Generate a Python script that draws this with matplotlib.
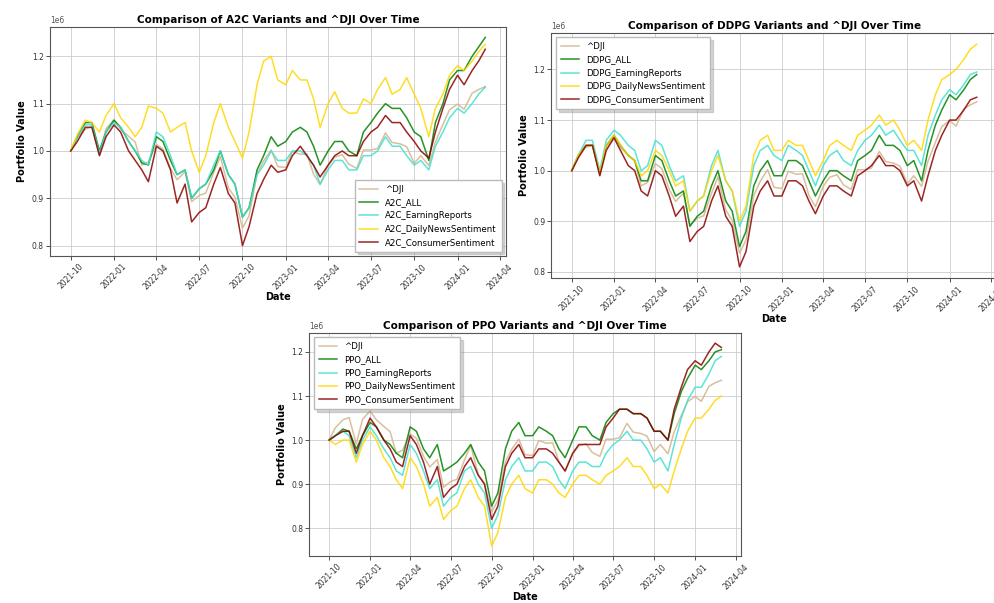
import numpy as np
import pandas as pd
import matplotlib
matplotlib.use("Agg")
import matplotlib.pyplot as plt
import matplotlib.dates as mdates

# Semi-monthly sample dates
dates = pd.to_datetime(
    [f"{y}-{m:02d}-{d:02d}" for y, m in
     [(2021, 10), (2021, 11), (2021, 12)] + [(2022, k) for k in range(1, 13)] +
     [(2023, k) for k in range(1, 13)] + [(2024, 1), (2024, 2)]
     for d in (1, 15)] + ["2024-02-29"])

dji = [1.000, 1.028, 1.046, 1.051, 0.991, 1.047, 1.066, 1.046, 1.031, 1.019, 0.970, 0.977,
       1.014, 1.004, 0.963, 0.939, 0.956, 0.893, 0.906, 0.911, 0.955, 0.988, 0.922, 0.902,
       0.837, 0.863, 0.951, 0.979, 1.002, 0.967, 0.965, 0.999, 0.993, 0.994, 0.951, 0.929,
       0.969, 0.987, 0.992, 0.972, 0.963, 1.002, 1.002, 1.005, 1.038, 1.018, 1.015, 1.009,
       0.974, 0.990, 0.969, 1.019, 1.056, 1.087, 1.099, 1.088, 1.122, 1.130, 1.136]

a2c_all = [1.00, 1.03, 1.06, 1.06, 1.00, 1.04, 1.065, 1.05, 1.02, 1.00, 0.975, 0.97,
           1.03, 1.02, 0.98, 0.95, 0.96, 0.90, 0.92, 0.93, 0.96, 1.00, 0.95, 0.93,
           0.86, 0.88, 0.96, 0.99, 1.03, 1.01, 1.02, 1.04, 1.05, 1.04, 1.01, 0.97,
           1.00, 1.02, 1.02, 1.00, 0.99, 1.04, 1.06, 1.08, 1.10, 1.09, 1.09, 1.07,
           1.04, 1.03, 0.98, 1.06, 1.10, 1.15, 1.17, 1.17, 1.20, 1.22, 1.24]
a2c_earn = [1.00, 1.03, 1.055, 1.055, 0.995, 1.04, 1.06, 1.05, 1.02, 1.00, 0.98, 0.97,
            1.04, 1.03, 0.99, 0.95, 0.96, 0.90, 0.92, 0.93, 0.97, 1.00, 0.95, 0.93,
            0.86, 0.88, 0.95, 0.97, 1.00, 0.98, 0.98, 1.00, 1.00, 0.99, 0.97, 0.93,
            0.96, 0.98, 0.98, 0.96, 0.96, 0.99, 0.99, 1.00, 1.03, 1.01, 1.01, 0.99,
            0.97, 0.98, 0.96, 1.01, 1.04, 1.07, 1.09, 1.08, 1.10, 1.12, 1.135]
a2c_news = [1.00, 1.035, 1.065, 1.06, 1.04, 1.075, 1.10, 1.07, 1.05, 1.03, 1.05, 1.095,
            1.09, 1.08, 1.04, 1.05, 1.06, 1.00, 0.955, 0.99, 1.06, 1.10, 1.05, 1.02,
            0.985, 1.04, 1.14, 1.19, 1.20, 1.15, 1.14, 1.17, 1.15, 1.15, 1.11, 1.05,
            1.10, 1.125, 1.09, 1.08, 1.08, 1.11, 1.10, 1.13, 1.155, 1.12, 1.13, 1.155,
            1.12, 1.09, 1.03, 1.09, 1.12, 1.16, 1.18, 1.17, 1.19, 1.21, 1.225]
a2c_cons = [1.00, 1.02, 1.05, 1.05, 0.99, 1.03, 1.055, 1.04, 1.00, 0.98, 0.96, 0.935,
            1.01, 1.00, 0.96, 0.89, 0.93, 0.85, 0.87, 0.88, 0.93, 0.965, 0.91, 0.89,
            0.80, 0.84, 0.91, 0.94, 0.97, 0.955, 0.96, 0.99, 1.01, 0.99, 0.97, 0.945,
            0.97, 0.99, 1.00, 0.99, 0.99, 1.02, 1.04, 1.05, 1.075, 1.06, 1.06, 1.04,
            1.02, 1.00, 0.985, 1.04, 1.09, 1.13, 1.16, 1.14, 1.17, 1.19, 1.215]

ddpg_all = [1.00, 1.03, 1.05, 1.05, 0.995, 1.05, 1.07, 1.05, 1.03, 1.02, 0.98, 0.98,
            1.03, 1.02, 0.98, 0.95, 0.96, 0.89, 0.91, 0.92, 0.97, 1.00, 0.94, 0.92,
            0.85, 0.88, 0.97, 1.00, 1.02, 0.99, 0.99, 1.02, 1.02, 1.01, 0.98, 0.95,
            0.98, 1.00, 1.00, 0.99, 0.98, 1.02, 1.03, 1.04, 1.07, 1.05, 1.05, 1.04,
            1.01, 1.02, 0.98, 1.04, 1.09, 1.12, 1.15, 1.14, 1.16, 1.18, 1.19]
ddpg_earn = [1.00, 1.03, 1.06, 1.06, 1.00, 1.06, 1.08, 1.07, 1.05, 1.04, 1.00, 1.01,
             1.06, 1.05, 1.01, 0.98, 0.99, 0.92, 0.94, 0.95, 1.01, 1.04, 0.98, 0.96,
             0.89, 0.92, 1.01, 1.04, 1.05, 1.03, 1.02, 1.05, 1.04, 1.03, 1.00, 0.97,
             1.01, 1.03, 1.04, 1.02, 1.01, 1.04, 1.06, 1.07, 1.09, 1.07, 1.08, 1.06,
             1.04, 1.04, 1.01, 1.07, 1.11, 1.14, 1.16, 1.15, 1.17, 1.19, 1.195]
ddpg_news = [1.00, 1.03, 1.05, 1.05, 0.995, 1.05, 1.07, 1.05, 1.03, 1.02, 0.99, 1.00,
             1.04, 1.03, 1.00, 0.97, 0.98, 0.92, 0.94, 0.95, 1.00, 1.03, 0.98, 0.96,
             0.90, 0.93, 1.03, 1.06, 1.07, 1.04, 1.04, 1.06, 1.05, 1.05, 1.02, 0.99,
             1.02, 1.05, 1.06, 1.05, 1.04, 1.07, 1.08, 1.09, 1.11, 1.09, 1.10, 1.08,
             1.05, 1.06, 1.04, 1.10, 1.15, 1.18, 1.19, 1.20, 1.22, 1.24, 1.25]
ddpg_cons = [1.00, 1.025, 1.05, 1.05, 0.99, 1.04, 1.065, 1.04, 1.01, 1.00, 0.96, 0.95,
             1.00, 0.99, 0.95, 0.91, 0.93, 0.86, 0.88, 0.89, 0.94, 0.97, 0.91, 0.89,
             0.81, 0.84, 0.93, 0.96, 0.98, 0.95, 0.95, 0.98, 0.98, 0.97, 0.94, 0.915,
             0.95, 0.97, 0.97, 0.96, 0.95, 0.99, 1.00, 1.01, 1.03, 1.01, 1.01, 1.00,
             0.97, 0.98, 0.94, 0.99, 1.04, 1.07, 1.10, 1.10, 1.12, 1.14, 1.145]

ppo_all = [1.00, 1.01, 1.025, 1.02, 0.98, 1.01, 1.04, 1.03, 1.00, 0.99, 0.97, 0.96,
           1.03, 1.02, 0.98, 0.96, 0.99, 0.93, 0.94, 0.95, 0.97, 0.99, 0.95, 0.93,
           0.85, 0.88, 0.98, 1.02, 1.04, 1.01, 1.01, 1.03, 1.02, 1.01, 0.98, 0.96,
           1.00, 1.03, 1.03, 1.01, 1.00, 1.04, 1.06, 1.07, 1.07, 1.06, 1.06, 1.05,
           1.02, 1.02, 1.00, 1.06, 1.11, 1.14, 1.17, 1.16, 1.18, 1.20, 1.205]
ppo_earn = [1.00, 1.01, 1.02, 1.01, 0.96, 1.00, 1.03, 1.01, 0.98, 0.96, 0.93, 0.92,
            0.99, 0.97, 0.93, 0.89, 0.91, 0.85, 0.87, 0.88, 0.93, 0.94, 0.90, 0.88,
            0.80, 0.83, 0.91, 0.94, 0.96, 0.93, 0.93, 0.95, 0.95, 0.94, 0.91, 0.89,
            0.93, 0.95, 0.95, 0.94, 0.94, 0.97, 0.99, 1.00, 1.02, 1.00, 1.00, 0.98,
            0.95, 0.96, 0.93, 0.99, 1.05, 1.09, 1.12, 1.12, 1.15, 1.18, 1.19]
ppo_news = [1.00, 0.99, 1.00, 1.00, 0.95, 0.99, 1.02, 1.00, 0.96, 0.94, 0.91, 0.89,
            0.96, 0.94, 0.90, 0.85, 0.87, 0.82, 0.84, 0.85, 0.89, 0.91, 0.87, 0.85,
            0.76, 0.79, 0.87, 0.90, 0.92, 0.89, 0.88, 0.91, 0.91, 0.90, 0.88, 0.87,
            0.90, 0.92, 0.92, 0.91, 0.90, 0.92, 0.93, 0.94, 0.96, 0.94, 0.94, 0.92,
            0.89, 0.90, 0.88, 0.93, 0.98, 1.02, 1.05, 1.05, 1.07, 1.09, 1.10]
ppo_cons = [1.00, 1.01, 1.02, 1.02, 0.97, 1.01, 1.05, 1.03, 1.00, 0.98, 0.95, 0.94,
            1.01, 0.99, 0.95, 0.90, 0.94, 0.87, 0.89, 0.90, 0.94, 0.96, 0.92, 0.90,
            0.82, 0.85, 0.94, 0.97, 0.99, 0.96, 0.96, 0.98, 0.98, 0.97, 0.95, 0.93,
            0.97, 0.99, 0.99, 0.99, 0.99, 1.03, 1.05, 1.07, 1.07, 1.06, 1.06, 1.05,
            1.02, 1.02, 1.00, 1.07, 1.12, 1.16, 1.18, 1.17, 1.20, 1.22, 1.21]

suffixes = ["ALL", "EarningReports", "DailyNewsSentiment", "ConsumerSentiment"]
colors = {"^DJI": "tan", "ALL": "green", "EarningReports": "turquoise",
          "DailyNewsSentiment": "gold", "ConsumerSentiment": "darkred"}
models = {
    "A2C": [a2c_all, a2c_earn, a2c_news, a2c_cons],
    "DDPG": [ddpg_all, ddpg_earn, ddpg_news, ddpg_cons],
    "PPO": [ppo_all, ppo_earn, ppo_news, ppo_cons],
}
legend_loc = {"A2C": "lower right", "DDPG": "upper left", "PPO": "upper left"}

W, H = 995, 603
boxes = {  # left, top, right, bottom in pixels
    "A2C": (50, 27, 506, 256),
    "DDPG": (551.5, 33, 997, 278),
    "PPO": (309.5, 333, 741, 556),
}

fig = plt.figure(figsize=(W / 100, H / 100), dpi=100)
for name, series in models.items():
    l, t, r, b = boxes[name]
    ax = fig.add_axes([l / W, 1 - b / H, (r - l) / W, (b - t) / H])
    ax.plot(dates, np.array(dji) * 1e6, color=colors["^DJI"], lw=1.1, alpha=0.85, label="^DJI")
    for suf, vals in zip(suffixes, series):
        ax.plot(dates, np.array(vals) * 1e6, color=colors[suf], lw=1.1, alpha=0.85,
                label=f"{name}_{suf}")
    ax.set_title(f"Comparison of {name} Variants and ^DJI Over Time",
                 fontsize=7.5, fontweight="bold", pad=3)
    ax.set_xlabel("Date", fontsize=7, fontweight="bold", labelpad=1)
    ax.set_ylabel("Portfolio Value", fontsize=7, fontweight="bold", labelpad=3)
    ax.xaxis.set_major_locator(mdates.MonthLocator(bymonth=[1, 4, 7, 10]))
    ax.xaxis.set_major_formatter(mdates.DateFormatter("%Y-%m"))
    ax.tick_params(axis="both", labelsize=5.5, length=3, width=0.6, colors="#333333", pad=1.5)
    for lab in ax.get_xticklabels():
        lab.set_rotation(45)
    ax.yaxis.get_offset_text().set_fontsize(5.5)
    ax.yaxis.get_offset_text().set_color("#555555")
    ax.grid(True, color="#cccccc", lw=0.6)
    for sp in ax.spines.values():
        sp.set_color("#555555")
        sp.set_linewidth(0.8)
    ax.legend(loc=legend_loc[name], fontsize=6.2, frameon=True,
              shadow={"color": "0.55", "alpha": 0.35, "ox": 2, "oy": -2},
              handlelength=2.2, borderpad=0.55, labelspacing=0.5, fancybox=False,
              edgecolor="#bbbbbb")

fig.savefig("out.png", dpi=100)
